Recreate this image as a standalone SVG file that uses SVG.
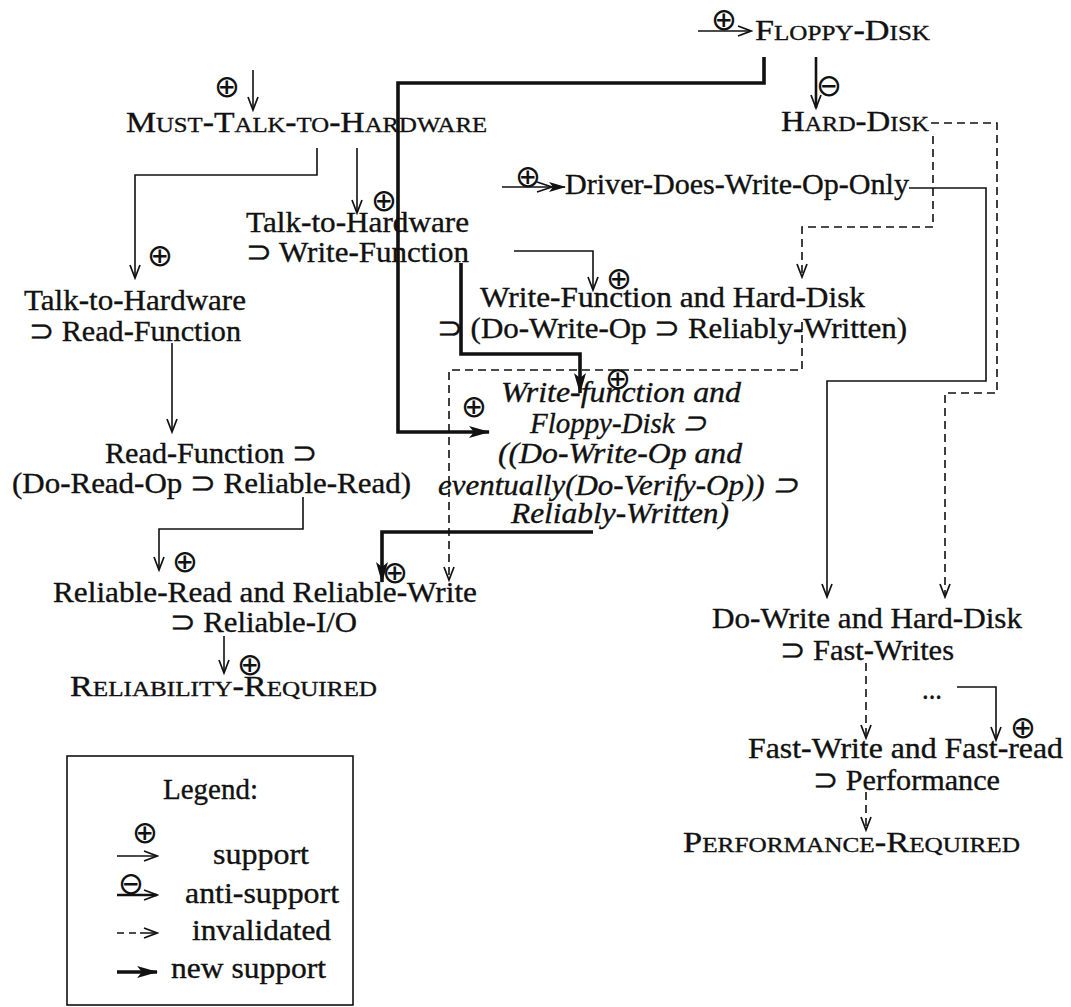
<svg xmlns="http://www.w3.org/2000/svg" width="1071" height="1007" viewBox="0 0 1071 1007">
<defs>
<style>
.t{font-family:'Liberation Serif','Times New Roman',Tinos,serif;font-size:30px;fill:#111;stroke:#111;stroke-width:0.35;}
.it{font-style:italic;}
.s{font-size:22px;}
.sym{font-family:'DejaVu Sans',sans-serif;font-size:31px;fill:#111;text-anchor:middle;}
.c{fill:none;stroke:#111;stroke-width:1.6;}
.k{fill:none;stroke:#111;stroke-width:3.6;}
.a{fill:none;stroke:#111;stroke-width:2.6;}
.d{fill:none;stroke:#111;stroke-width:1.6;stroke-dasharray:8 5;}
</style>
<marker id="open" markerUnits="userSpaceOnUse" markerWidth="16" markerHeight="12" refX="14" refY="6" orient="auto">
<path d="M1,1 L14,6 L1,11" fill="none" stroke="#111" stroke-width="1.7"/>
</marker>
<marker id="fill" markerUnits="userSpaceOnUse" markerWidth="22" markerHeight="14" refX="20" refY="7" orient="auto">
<path d="M0,1 L21,7 L0,13 L5,7 Z" fill="#111"/>
</marker>
<marker id="fillsm" markerUnits="userSpaceOnUse" markerWidth="18" markerHeight="12" refX="16" refY="6" orient="auto">
<path d="M0,1 L17,6 L0,11 L4,6 Z" fill="#111"/>
</marker>
</defs>
<rect width="1071" height="1007" fill="#fff"/>

<g id="connectors">
<path class="c" d="M253,70 V110" marker-end="url(#open)"/>
<path class="c" d="M317,148 V175 H135 V278" marker-end="url(#open)"/>
<path class="c" d="M357,148 V213" marker-end="url(#open)"/>
<path class="c" d="M172,343 V432" marker-end="url(#open)"/>
<path class="c" d="M303,497 V529 H159 V570" marker-end="url(#open)"/>
<path class="c" d="M514,251 H593 V290" marker-end="url(#open)"/>
<path class="c" d="M909,188 H986 V381 H827 V597" marker-end="url(#open)"/>
<path class="c" d="M224,636 V673" marker-end="url(#open)"/>
<path class="c" d="M957,687 H996 V740" marker-end="url(#open)"/>
<path class="c" d="M698,31 H751" marker-end="url(#open)"/>
<path class="c" d="M502,187 H565" marker-end="url(#fillsm)"/>
<path class="c" d="M537,182 L552,187 L537,192"/>
<path class="a" d="M816,57 V108" marker-end="url(#open)"/>
<path class="k" d="M764,57 V83 H398 V432 H489" marker-end="url(#fill)"/>
<path class="k" d="M461,263 V354 H580 V393" marker-end="url(#fill)"/>
<path class="k" d="M593,532 H382 V582" marker-end="url(#fill)"/>
<path class="d" d="M931,123 H997 V393 H945 V597" marker-end="url(#open)"/>
<path class="d" d="M933,136 V227 H802 V277" marker-end="url(#open)"/>
<path class="d" d="M802,322 V370 H449 V580" marker-end="url(#open)"/>
<path class="d" d="M866,663 V738" marker-end="url(#open)"/>
<path class="d" d="M866,792 V830" marker-end="url(#open)"/>
<text class="sym" x="227" y="97">⊕</text>
<text class="sym" x="160" y="266">⊕</text>
<text class="sym" x="384" y="211">⊕</text>
<text class="sym" x="185" y="572">⊕</text>
<text class="sym" x="619" y="289">⊕</text>
<text class="sym" x="250" y="675">⊕</text>
<text class="sym" x="1023" y="738">⊕</text>
<text class="sym" x="724" y="30">⊕</text>
<text class="sym" x="528" y="187">⊕</text>
<text class="sym" x="829" y="96">⊖</text>
<text class="sym" x="474" y="417">⊕</text>
<text class="sym" x="618" y="389">⊕</text>
<text class="sym" x="395" y="583">⊕</text>
</g>

<g id="floppy-disk"><text class="t" x="755" y="40" textLength="175" lengthAdjust="spacingAndGlyphs">F<tspan class="s">LOPPY</tspan>-D<tspan class="s">ISK</tspan></text></g>
<g id="hard-disk"><text class="t" x="781" y="131" textLength="148" lengthAdjust="spacingAndGlyphs">H<tspan class="s">ARD</tspan>-D<tspan class="s">ISK</tspan></text></g>
<g id="must-talk"><text class="t" x="126" y="132" textLength="361" lengthAdjust="spacingAndGlyphs">M<tspan class="s">UST</tspan>-T<tspan class="s">ALK</tspan>-<tspan class="s">TO</tspan>-H<tspan class="s">ARDWARE</tspan></text></g>
<g id="driver"><text class="t" x="565" y="194" textLength="344" lengthAdjust="spacingAndGlyphs">Driver-Does-Write-Op-Only</text></g>
<g id="tth-write">
<text class="t" x="246" y="232" textLength="223" lengthAdjust="spacingAndGlyphs">Talk-to-Hardware</text>
<text class="t" x="246" y="262" textLength="223" lengthAdjust="spacingAndGlyphs">⊃ Write-Function</text>
</g>
<g id="tth-read">
<text class="t" x="24" y="310" textLength="222" lengthAdjust="spacingAndGlyphs">Talk-to-Hardware</text>
<text class="t" x="29" y="341" textLength="212" lengthAdjust="spacingAndGlyphs">⊃ Read-Function</text>
</g>
<g id="wf-hard">
<text class="t" x="480" y="307" textLength="385" lengthAdjust="spacingAndGlyphs">Write-Function and Hard-Disk</text>
<text class="t" x="437" y="338" textLength="470" lengthAdjust="spacingAndGlyphs">⊃ (Do-Write-Op ⊃ Reliably-Written)</text>
</g>
<g id="wf-floppy">
<text class="t it" x="501" y="402" textLength="240" lengthAdjust="spacingAndGlyphs">Write-function and</text>
<text class="t it" x="530" y="433" textLength="176" lengthAdjust="spacingAndGlyphs">Floppy-Disk ⊃</text>
<text class="t it" x="498" y="463" textLength="244" lengthAdjust="spacingAndGlyphs">((Do-Write-Op and</text>
<text class="t it" x="438" y="495" textLength="360" lengthAdjust="spacingAndGlyphs">eventually(Do-Verify-Op)) ⊃</text>
<text class="t it" x="511" y="523" textLength="218" lengthAdjust="spacingAndGlyphs">Reliably-Written)</text>
</g>
<g id="read-function">
<text class="t" x="105" y="463" textLength="212" lengthAdjust="spacingAndGlyphs">Read-Function ⊃</text>
<text class="t" x="12" y="493" textLength="399" lengthAdjust="spacingAndGlyphs">(Do-Read-Op ⊃ Reliable-Read)</text>
</g>
<g id="reliable-io">
<text class="t" x="53" y="602" textLength="424" lengthAdjust="spacingAndGlyphs">Reliable-Read and Reliable-Write</text>
<text class="t" x="170" y="632" textLength="187" lengthAdjust="spacingAndGlyphs">⊃ Reliable-I/O</text>
</g>
<g id="reliability-required"><text class="t" x="70" y="696" textLength="307" lengthAdjust="spacingAndGlyphs">R<tspan class="s">ELIABILITY</tspan>-R<tspan class="s">EQUIRED</tspan></text></g>
<g id="fast-writes">
<text class="t" x="712" y="628" textLength="310" lengthAdjust="spacingAndGlyphs">Do-Write and Hard-Disk</text>
<text class="t" x="780" y="660" textLength="174" lengthAdjust="spacingAndGlyphs">⊃ Fast-Writes</text>
</g>
<g id="ellipsis"><text class="t" x="922" y="699" textLength="20" lengthAdjust="spacingAndGlyphs">...</text></g>
<g id="performance">
<text class="t" x="748" y="758" textLength="315" lengthAdjust="spacingAndGlyphs">Fast-Write and Fast-read</text>
<text class="t" x="813" y="790" textLength="187" lengthAdjust="spacingAndGlyphs">⊃ Performance</text>
</g>
<g id="performance-required"><text class="t" x="683" y="852" textLength="337" lengthAdjust="spacingAndGlyphs">P<tspan class="s">ERFORMANCE</tspan>-R<tspan class="s">EQUIRED</tspan></text></g>

<g id="legend">
<rect x="67" y="756" width="286" height="249" fill="none" stroke="#111" stroke-width="1.6"/>
<text class="t" x="163" y="799" textLength="95" lengthAdjust="spacingAndGlyphs">Legend:</text>
<text class="t" x="213" y="864" textLength="96" lengthAdjust="spacingAndGlyphs">support</text>
<text class="t" x="185" y="903" textLength="154" lengthAdjust="spacingAndGlyphs">anti-support</text>
<text class="t" x="192" y="940" textLength="139" lengthAdjust="spacingAndGlyphs">invalidated</text>
<text class="t" x="171" y="978" textLength="155" lengthAdjust="spacingAndGlyphs">new support</text>
<text class="sym" x="145" y="843">⊕</text>
<text class="sym" x="131" y="894">⊖</text>
<path class="c" d="M117,856 H157" marker-end="url(#open)"/>
<path class="a" d="M117,895 H157" marker-end="url(#open)"/>
<path class="c" d="M117,933 H124 M129,933 H136 M140,933 H157" marker-end="url(#open)"/>
<path class="k" d="M117,972 H157" marker-end="url(#fill)"/>
</g>
</svg>
